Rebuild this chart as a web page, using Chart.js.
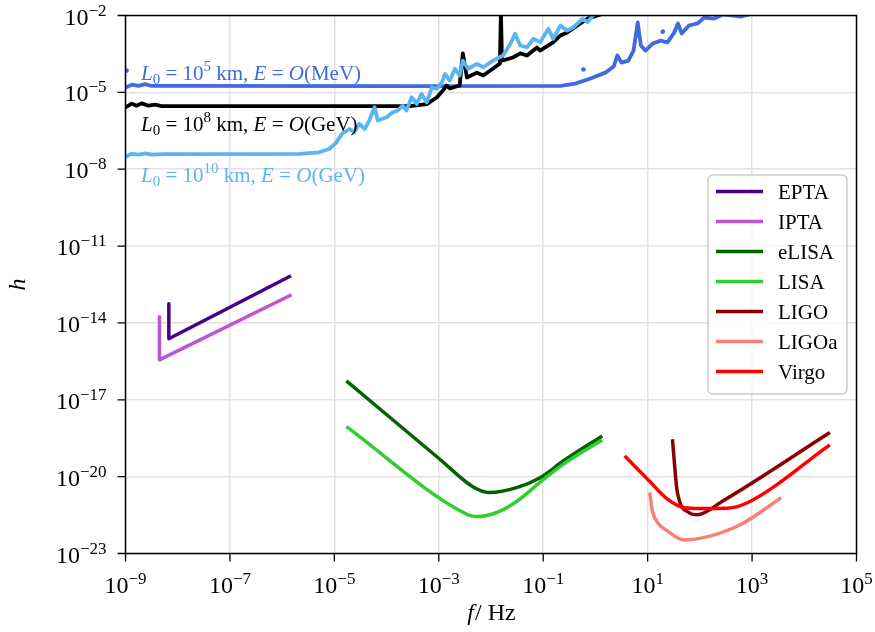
<!DOCTYPE html>
<html><head><meta charset="utf-8">
<script src="https://cdn.jsdelivr.net/npm/chart.js@4.4.1/dist/chart.umd.min.js"></script>
<style>html,body{margin:0;padding:0;background:#fff;}canvas{display:block;}</style>
</head><body>
<canvas id="c" width="875" height="632"></canvas>
<script>
// ---- tick exponents (log10) ----
const xTickExps = [-9, -7, -5, -3, -1, 1, 3, 5];
const yTickExps = [-23, -20, -17, -14, -11, -8, -5, -2];

// ---- series: log10(f / Hz) and log10(h) ----
const legendLabels = ['EPTA', 'IPTA', 'eLISA', 'LISA', 'LIGO', 'LIGOa', 'Virgo'];

const eptaLogF = [-8.17, -8.17, -5.83];
const eptaLogH = [-13.25, -14.62, -12.16];

const iptaLogF = [-8.35, -8.35, -5.82];
const iptaLogH = [-13.76, -15.44, -12.90];

const elisaLogF = [-4.77, -2.98, -2.34, -2.02, -1.51, -1.06, -0.61, 0.13];
const elisaLogH = [-16.26, -19.32, -20.40, -20.62, -20.43, -20.04, -19.38, -18.41];

const lisaLogF = [-4.77, -2.53, -2.28, -1.89, -1.51, -1.00, -0.61, 0.13];
const lisaLogH = [-18.05, -21.40, -21.56, -21.40, -20.97, -20.12, -19.51, -18.57];

const ligoLogF = [1.475, 1.57, 1.79, 1.95, 2.44, 4.49];
const ligoLogH = [-18.54, -20.62, -21.40, -21.49, -20.95, -18.28];

const ligoaLogF = [1.04, 1.09, 1.19, 1.38, 1.70, 2.21, 2.79, 3.56];
const ligoaLogH = [-20.62, -21.34, -21.79, -22.12, -22.47, -22.31, -21.86, -20.82];

const virgoLogF = [0.56, 1.00, 1.38, 1.70, 2.02, 2.53, 2.92, 4.49];
const virgoLogH = [-19.19, -20.10, -20.88, -21.21, -21.24, -21.23, -21.01, -18.76];

// L0 = 1e5 km, E = O(MeV)
const mevLogF = [-9.00, -8.88, -8.75, -8.62, -8.50, -8.27, -3.75, -0.67, -0.385, -0.096, 0.19, 0.35, 0.42, 0.50, 0.63, 0.73, 0.81, 0.87, 0.96, 1.10, 1.25, 1.38, 1.50, 1.58, 1.65, 1.79, 1.96, 2.08, 2.27, 2.44, 2.79, 3.02];
const mevLogH = [-4.81, -4.70, -4.75, -4.68, -4.75, -4.75, -4.76, -4.75, -4.66, -4.46, -4.23, -3.99, -3.56, -3.84, -3.76, -3.37, -2.27, -3.17, -3.37, -3.09, -2.98, -3.05, -2.70, -2.31, -2.70, -2.39, -2.31, -2.08, -2.12, -1.96, -2.04, -1.92];
const mevDotsLogF = [-8.98, -0.23, 1.29];
const mevDotsLogH = [-4.15, -4.11, -2.63];

// L0 = 1e8 km, E = O(GeV)
const gev8LogF = [-9.00, -8.88, -8.79, -8.69, -8.56, -8.43, -8.31, -3.56, -3.23, -3.04, -2.92, -2.85, -2.79, -2.60, -2.54, -2.46, -2.27, -2.15, -1.96, -1.83, -1.81, -1.79, -1.58, -1.44, -1.31, -1.12, -1.06, -0.81, -0.67, -0.54, -0.29, -0.15, 0.10];
const gev8LogH = [-5.59, -5.44, -5.52, -5.43, -5.52, -5.48, -5.54, -5.54, -5.46, -5.20, -4.93, -4.73, -4.85, -4.73, -3.48, -4.42, -4.23, -4.34, -4.07, -3.88, -1.80, -3.76, -3.64, -3.48, -3.56, -3.25, -3.37, -3.05, -2.78, -2.66, -2.31, -2.12, -1.96];

// L0 = 1e10 km, E = O(GeV)
const gev10LogF = [-9.00, -8.88, -8.75, -8.62, -8.50, -8.27, -5.67, -5.29, -5.10, -4.96, -4.85, -4.71, -4.62, -4.52, -4.42, -4.33, -4.23, -4.17, -4.00, -3.88, -3.79, -3.69, -3.62, -3.52, -3.42, -3.33, -3.23, -3.13, -3.04, -2.94, -2.88, -2.79, -2.69, -2.60, -2.54, -2.44, -2.27, -2.15, -1.96, -1.77, -1.63, -1.54, -1.44, -1.31, -1.19, -1.06, -0.90, -0.81, -0.67, -0.54, -0.42, -0.25, -0.15, 0.00];
const gev10LogH = [-7.51, -7.40, -7.43, -7.38, -7.43, -7.41, -7.40, -7.34, -7.21, -6.95, -6.61, -6.43, -6.56, -6.23, -6.43, -6.10, -5.58, -6.10, -5.97, -5.78, -5.71, -5.52, -5.71, -5.19, -5.45, -5.06, -5.39, -4.80, -4.86, -4.61, -4.28, -4.54, -4.08, -4.34, -3.76, -4.08, -3.89, -4.02, -3.76, -3.56, -3.11, -2.71, -3.17, -3.24, -2.91, -3.04, -2.52, -2.91, -2.39, -2.59, -2.46, -2.13, -2.26, -1.88];

const COLORS = {
  EPTA: '#4b0082', IPTA: '#ba55d3', eLISA: '#006400', LISA: '#32cd32',
  LIGO: '#8b0000', LIGOa: '#fa8072', Virgo: '#ff0000',
  mev: '#4169e1', gev8: '#000000', gev10: '#5ab4f2'
};
const SERIF = '"Liberation Serif", "Times New Roman", Times, serif';

function pts(lf, lh) {
  return lf.map((v, i) => ({ x: Math.pow(10, v), y: Math.pow(10, lh[i]) }));
}

let orderCounter = 100;
function lineDs(label, lf, lh, color, opts) {
  return Object.assign({
    label: label, data: pts(lf, lh), borderColor: color, backgroundColor: color,
    borderWidth: 3.5, pointRadius: 0, tension: 0, fill: false, clip: 0,
    order: orderCounter--, borderJoinStyle: 'round', borderCapStyle: 'butt'
  }, opts || {});
}

const datasets = [
  lineDs('mev', mevLogF, mevLogH, COLORS.mev, { borderWidth: 3.8 }),
  Object.assign(lineDs('mevDots', mevDotsLogF, mevDotsLogH, COLORS.mev), { showLine: false, pointRadius: 2.3, pointBorderWidth: 0 }),
  lineDs('gev8', gev8LogF, gev8LogH, COLORS.gev8, { borderWidth: 3.8 }),
  lineDs('gev10', gev10LogF, gev10LogH, COLORS.gev10, { borderWidth: 3.8 }),
  lineDs('EPTA', eptaLogF, eptaLogH, COLORS.EPTA),
  lineDs('IPTA', iptaLogF, iptaLogH, COLORS.IPTA),
  lineDs('eLISA', elisaLogF, elisaLogH, COLORS.eLISA, { cubicInterpolationMode: 'monotone' }),
  lineDs('LISA', lisaLogF, lisaLogH, COLORS.LISA, { cubicInterpolationMode: 'monotone' }),
  lineDs('LIGO', ligoLogF, ligoLogH, COLORS.LIGO, { cubicInterpolationMode: 'monotone' }),
  lineDs('LIGOa', ligoaLogF, ligoaLogH, COLORS.LIGOa, { cubicInterpolationMode: 'monotone' }),
  lineDs('Virgo', virgoLogF, virgoLogH, COLORS.Virgo, { cubicInterpolationMode: 'monotone' })
];

function drawPow(ctx, exp, x, y, align) {
  const base = '10';
  const e = (exp < 0 ? '\u2212' : '') + Math.abs(exp);
  ctx.font = '24px ' + SERIF;
  const wb = ctx.measureText(base).width;
  ctx.font = '17px ' + SERIF;
  const we = ctx.measureText(e).width;
  const w = wb + we;
  let x0 = align === 'right' ? x - w : x - w / 2;
  ctx.textAlign = 'left';
  ctx.textBaseline = 'alphabetic';
  ctx.font = '24px ' + SERIF;
  ctx.fillText(base, x0, y);
  ctx.font = '17px ' + SERIF;
  ctx.fillText(e, x0 + wb, y - 9);
}

function drawRuns(ctx, runs, x, y, color) {
  ctx.fillStyle = color;
  ctx.textAlign = 'left';
  ctx.textBaseline = 'alphabetic';
  let cx = x;
  for (const r of runs) {
    ctx.font = (r.i ? 'italic ' : '') + r.s + 'px ' + SERIF;
    ctx.fillText(r.t, cx, y + (r.dy || 0));
    cx += ctx.measureText(r.t).width;
  }
}

function annot(exp, energy) {
  return [
    { t: 'L', i: 1, s: 21 }, { t: '0', s: 15, dy: 4 }, { t: ' = 10', s: 21 },
    { t: String(exp), s: 15, dy: -9 }, { t: ' km, ', s: 21 }, { t: 'E', i: 1, s: 21 },
    { t: ' = ', s: 21 }, { t: 'O', i: 1, s: 21 }, { t: '(' + energy + ')', s: 21 }
  ];
}

const decor = {
  id: 'decor',
  afterDatasetsDraw(chart) {
    const ctx = chart.ctx;
    const a = chart.chartArea;
    const xs = chart.scales.x, ys = chart.scales.y;
    ctx.save();
    // annotations
    drawRuns(ctx, annot(5, 'MeV'), 141, 80, COLORS.mev);
    drawRuns(ctx, annot(8, 'GeV'), 141, 131, COLORS.gev8);
    drawRuns(ctx, annot(10, 'GeV'), 141, 182, COLORS.gev10);

    // frame
    ctx.strokeStyle = '#000';
    ctx.lineWidth = 1.5;
    ctx.strokeRect(a.left, a.top, a.right - a.left, a.bottom - a.top);
    // ticks
    ctx.lineWidth = 1.3;
    ctx.beginPath();
    xTickExps.forEach(e => {
      const px = xs.getPixelForValue(Math.pow(10, e));
      ctx.moveTo(px, a.bottom); ctx.lineTo(px, a.bottom + 8);
    });
    yTickExps.forEach(e => {
      const py = ys.getPixelForValue(Math.pow(10, e));
      ctx.moveTo(a.left, py); ctx.lineTo(a.left - 8, py);
    });
    ctx.stroke();
    // tick labels
    ctx.fillStyle = '#000';
    xTickExps.forEach(e => {
      const px = xs.getPixelForValue(Math.pow(10, e));
      drawPow(ctx, e, px, a.bottom + 39, 'center');
    });
    yTickExps.forEach(e => {
      const py = ys.getPixelForValue(Math.pow(10, e));
      drawPow(ctx, e, a.left - 19, py + 9, 'right');
    });
    // axis titles
    ctx.font = 'italic 24px ' + SERIF;
    ctx.textAlign = 'center';
    ctx.textBaseline = 'middle';
    ctx.save();
    ctx.translate(19, (a.top + a.bottom) / 2);
    ctx.rotate(-Math.PI / 2);
    ctx.fillText('h', 0, 0);
    ctx.restore();
    ctx.textBaseline = 'alphabetic';
    ctx.textAlign = 'left';
    ctx.font = 'italic 24px ' + SERIF;
    const wf = ctx.measureText('f').width;
    ctx.font = '24px ' + SERIF;
    const wr = ctx.measureText('/ Hz').width;
    const cx = (a.left + a.right) / 2 - (wf + wr) / 2;
    ctx.font = 'italic 24px ' + SERIF;
    ctx.fillText('f', cx, 620);
    ctx.font = '24px ' + SERIF;
    ctx.fillText('/ Hz', cx + wf + 1, 620);

    // legend
    const lx = 708, ly = 175, lw = 139, lh = 219, r = 5;
    ctx.beginPath();
    ctx.moveTo(lx + r, ly);
    ctx.arcTo(lx + lw, ly, lx + lw, ly + lh, r);
    ctx.arcTo(lx + lw, ly + lh, lx, ly + lh, r);
    ctx.arcTo(lx, ly + lh, lx, ly, r);
    ctx.arcTo(lx, ly, lx + lw, ly, r);
    ctx.closePath();
    ctx.fillStyle = 'rgba(255,255,255,0.8)';
    ctx.fill();
    ctx.strokeStyle = '#cccccc';
    ctx.lineWidth = 1.5;
    ctx.stroke();
    legendLabels.forEach((lab, i) => {
      const yy = 191.5 + 30 * i;
      ctx.strokeStyle = COLORS[lab];
      ctx.lineWidth = 3.5;
      ctx.beginPath();
      ctx.moveTo(716, yy); ctx.lineTo(763, yy);
      ctx.stroke();
      ctx.fillStyle = '#000';
      ctx.font = '21px ' + SERIF;
      ctx.textAlign = 'left';
      ctx.textBaseline = 'alphabetic';
      ctx.fillText(lab, 778, yy + 7);
    });
    ctx.restore();
  }
};

new Chart(document.getElementById('c'), {
  type: 'line',
  data: { datasets: datasets },
  options: {
    responsive: false,
    animation: false,
    devicePixelRatio: 1,
    layout: { padding: { left: 125.5, right: 18.5, top: 15.5, bottom: 78.5 } },
    plugins: { legend: { display: false }, tooltip: { enabled: false } },
    scales: {
      x: {
        type: 'logarithmic', min: 1e-9, max: 1e5,
        afterBuildTicks: (s) => { s.ticks = xTickExps.map(e => ({ value: Math.pow(10, e) })); },
        ticks: { display: false },
        grid: { color: '#e2e2e2', lineWidth: 1.5, drawTicks: false },
        border: { display: false }
      },
      y: {
        type: 'logarithmic', min: 1e-23, max: 1e-2,
        afterBuildTicks: (s) => { s.ticks = yTickExps.map(e => ({ value: Math.pow(10, e) })); },
        ticks: { display: false },
        grid: { color: '#e2e2e2', lineWidth: 1.5, drawTicks: false },
        border: { display: false }
      }
    }
  },
  plugins: [decor]
});
</script>
</body></html>
